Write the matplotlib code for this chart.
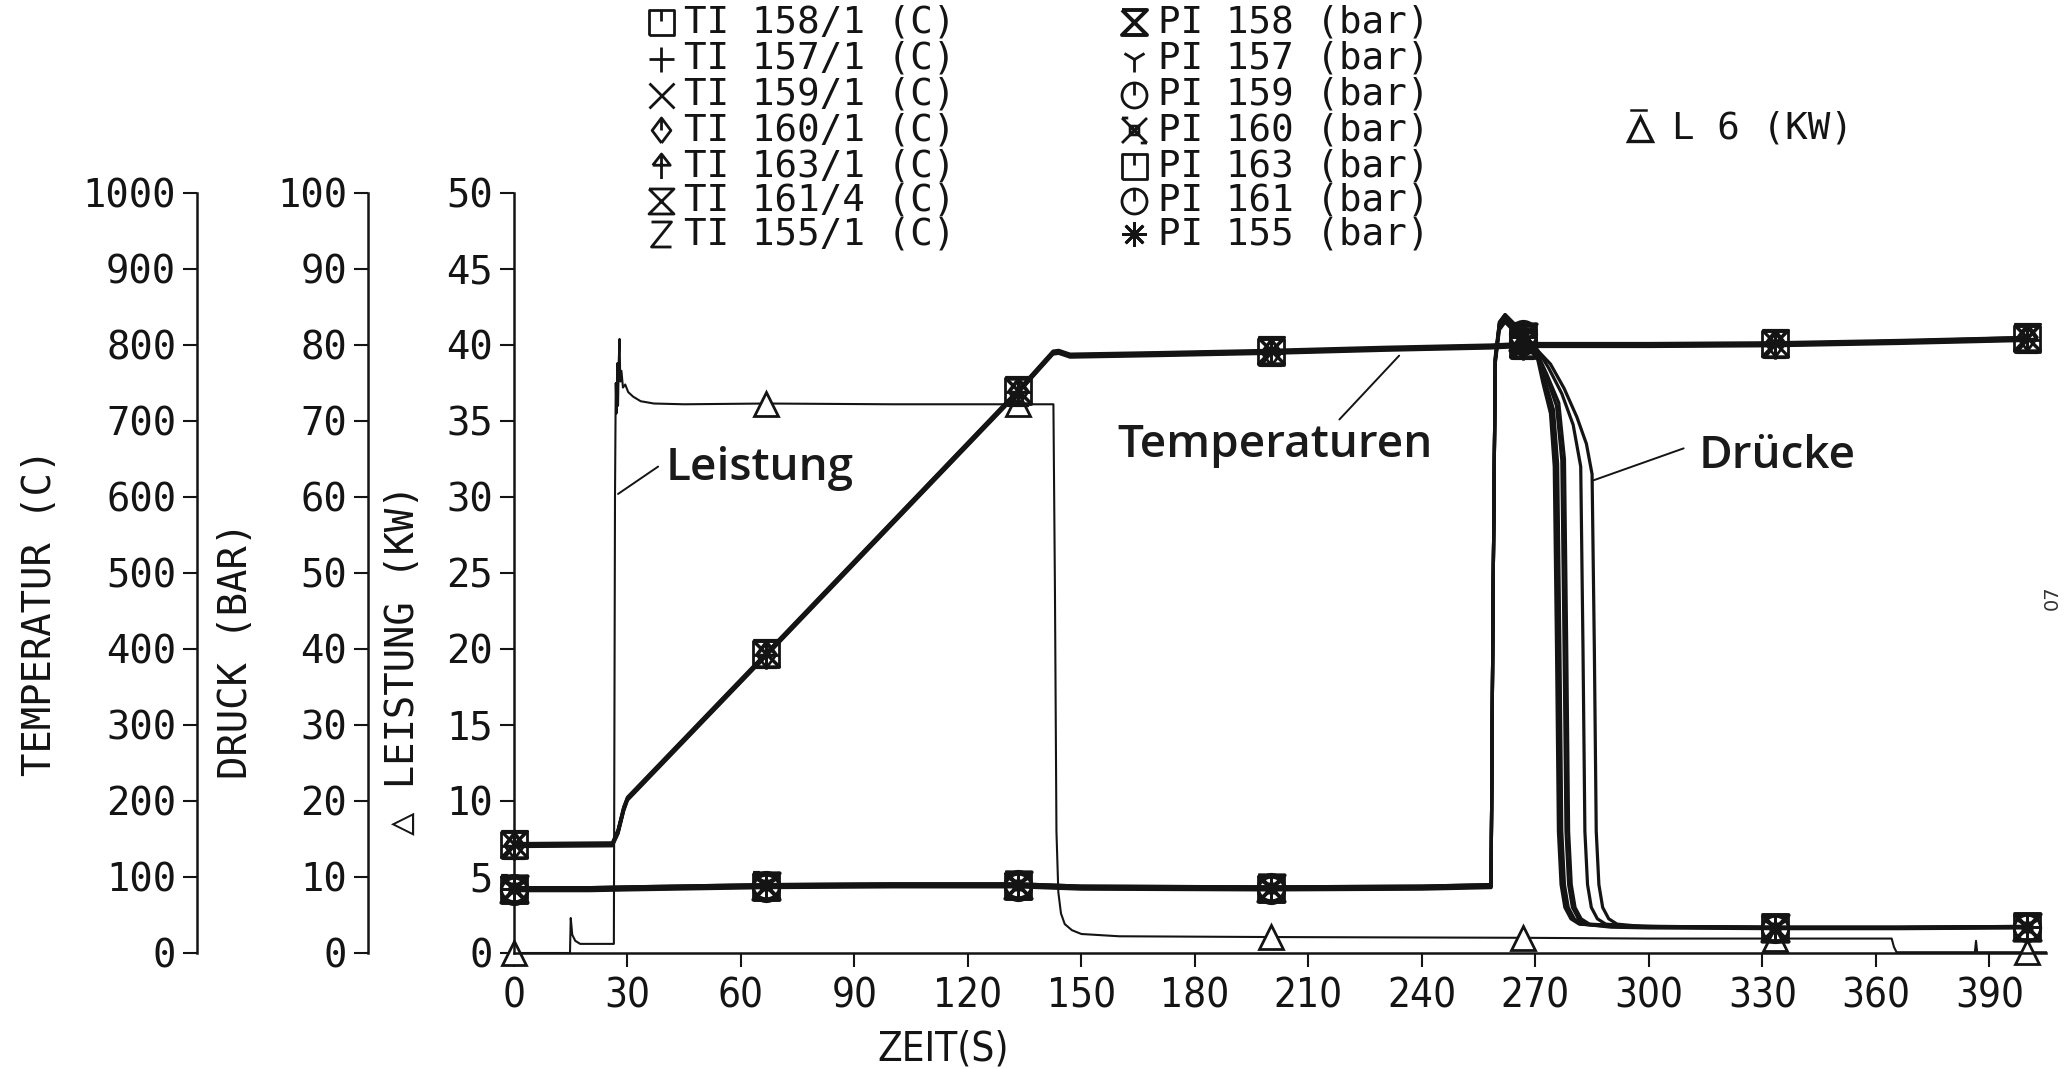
import matplotlib
matplotlib.use("Agg")
import matplotlib.pyplot as plt
from matplotlib.path import Path
from matplotlib.lines import Line2D
from matplotlib import font_manager as fm

# ---------------------------------------------------------------- data
X_TICKS = [0, 30, 60, 90, 120, 150, 180, 210, 240, 270, 300, 330, 360, 390]
TEMP_TICKS = [0, 100, 200, 300, 400, 500, 600, 700, 800, 900, 1000]
PRESS_TICKS = [0, 10, 20, 30, 40, 50, 60, 70, 80, 90, 100]
POWER_TICKS = [0, 5, 10, 15, 20, 25, 30, 35, 40, 45, 50]
MARK_TIMES = [0, 66.7, 133.3, 200, 266.7, 333.3, 400]

# temperatures (C)
T_TIME = [0, 26, 27.5, 29, 30, 66.7, 100, 133.3, 142.5, 144, 147, 170, 200, 230, 258, 266.7, 300, 333.3, 366, 400]
TI_158_1 = [142, 143, 160, 190, 203, 393, 566, 739, 790, 791, 786, 788, 791, 795, 798, 800, 800, 801, 804, 808]
TI_157_1 = [141, 142, 158, 188, 202, 392, 565, 738, 789, 790, 785, 787, 790, 794, 797, 799, 799, 800, 803, 807]
TI_159_1 = [143, 144, 161, 191, 204, 394, 567, 740, 791, 792, 787, 789, 792, 796, 799, 801, 801, 802, 805, 809]
TI_160_1 = [142, 143, 159, 189, 203, 393, 567, 740, 790, 791, 786, 788, 791, 795, 798, 800, 801, 802, 805, 810]
TI_163_1 = [140, 141, 157, 187, 201, 391, 564, 737, 788, 789, 784, 786, 789, 793, 796, 798, 798, 799, 802, 806]
TI_161_4 = [144, 145, 162, 192, 205, 395, 568, 741, 792, 793, 788, 790, 793, 797, 800, 802, 802, 803, 806, 810]
TI_155_1 = [142, 143, 160, 190, 203, 393, 566, 738, 790, 791, 786, 788, 791, 795, 798, 800, 800, 801, 804, 808]

# pressures (bar)
PI_158_T = [0, 20, 30, 66.7, 100, 133.3, 150, 200, 240, 258.3, 258.8, 259.4, 260.5, 262, 264, 266.7, 270,
            272, 274, 275.0, 275.6, 276.1, 276.8, 277.8, 279.4, 281.6, 290, 300, 333.3, 366, 400]
PI_158 = [8.4, 8.4, 8.5, 8.8, 8.9, 8.9, 8.6, 8.5, 8.6, 8.8, 45, 78, 82.5, 83.5, 82.5, 81, 79.5,
          75, 71, 64, 40, 16, 9, 6, 4.5, 3.8, 3.5, 3.4, 3.3, 3.3, 3.4]
PI_157_T = [0, 20, 30, 66.7, 100, 133.3, 150, 200, 240, 258.3, 258.8, 259.4, 260.5, 262, 264, 266.7, 270,
            272.2, 274.4, 275.4, 276.0, 276.5, 277.2, 278.2, 279.8, 282, 290, 300, 333.3, 366, 400]
PI_157 = [8.6, 8.6, 8.7, 9.0, 9.1, 9.1, 8.8, 8.7, 8.8, 9.0, 45, 78.5, 83, 84, 83, 81.5, 79.8,
          75.3, 71.2, 64.2, 40, 16, 9, 6, 4.5, 3.8, 3.6, 3.5, 3.4, 3.4, 3.5]
PI_159_T = [0, 20, 30, 66.7, 100, 133.3, 150, 200, 240, 258.3, 258.8, 259.4, 260.5, 262, 264, 266.7, 270,
            272.4, 274.8, 275.9, 276.5, 277.0, 277.7, 278.7, 280.3, 282.5, 290, 300, 333.3, 366, 400]
PI_159 = [8.2, 8.2, 8.3, 8.6, 8.7, 8.7, 8.4, 8.3, 8.4, 8.6, 45, 77.5, 82, 83, 82, 80.5, 79.2,
          75.6, 71.5, 64.4, 40, 16, 9, 6, 4.5, 3.8, 3.4, 3.3, 3.2, 3.2, 3.3]
PI_160_T = [0, 20, 30, 66.7, 100, 133.3, 150, 200, 240, 258.3, 258.8, 259.4, 260.5, 262, 264, 266.7, 270,
            272.8, 275.6, 277.0, 277.6, 278.1, 278.8, 279.8, 281.4, 283.6, 291, 300, 333.3, 366, 400]
PI_160 = [8.5, 8.5, 8.6, 8.9, 9.0, 9.0, 8.7, 8.6, 8.7, 8.9, 45, 78, 82.8, 83.8, 82.8, 81.2, 79.6,
          76, 72, 64.8, 40, 16, 9, 6, 4.5, 3.8, 3.5, 3.4, 3.3, 3.3, 3.4]
PI_163_T = [0, 20, 30, 66.7, 100, 133.3, 150, 200, 240, 258.3, 258.8, 259.4, 260.5, 262, 264, 266.7, 270,
            273, 276.2, 277.7, 278.3, 278.8, 279.5, 280.5, 282.1, 284.3, 292, 300, 333.3, 366, 400]
PI_163 = [8.3, 8.3, 8.4, 8.7, 8.8, 8.8, 8.5, 8.4, 8.5, 8.7, 45, 77.8, 82.3, 83.3, 82.3, 80.8, 79.4,
          76.2, 72.4, 65, 40, 16, 9, 6, 4.5, 3.8, 3.6, 3.5, 3.4, 3.4, 3.5]
PI_161_T = [0, 20, 30, 66.7, 100, 133.3, 150, 200, 240, 258.3, 258.8, 259.4, 260.5, 262, 264, 266.7, 270,
            273.5, 277, 280, 282.0, 282.6, 283.1, 283.8, 284.8, 286.4, 288.6, 296, 333.3, 366, 400]
PI_161 = [8.6, 8.6, 8.7, 9.0, 9.1, 9.1, 8.8, 8.7, 8.8, 9.0, 45, 78.2, 83, 84, 83, 81.4, 79.8,
          77, 73.6, 69.5, 64, 40, 16, 9, 6, 4.5, 3.8, 3.5, 3.35, 3.35, 3.45]
PI_155_T = [0, 20, 30, 66.7, 100, 133.3, 150, 200, 240, 258.3, 258.8, 259.4, 260.5, 262, 264, 266.7, 270,
            274, 277.6, 281, 283.5, 285.0, 285.6, 286.1, 286.8, 287.8, 289.4, 291.6, 298, 333.3, 366, 400]
PI_155 = [8.4, 8.4, 8.5, 8.8, 8.9, 8.9, 8.6, 8.5, 8.6, 8.8, 45, 78, 82.6, 83.6, 82.6, 81, 79.6,
          77.5, 74.3, 70.5, 67, 63, 40, 16, 9, 6, 4.5, 3.8, 3.5, 3.3, 3.3, 3.4]

# power L 6 (kW)
L6_T = [0, 14.8, 15.0, 15.4, 16.2, 17.5, 26.4, 26.7, 26.9, 27.1, 27.3, 27.5, 27.7, 27.9, 28.1, 28.4,
        28.8, 29.4, 30.2, 31.5, 33.5, 37, 45, 66.7, 100, 133.3, 142.6, 143.0, 143.4, 143.9, 144.6,
        145.6, 147.5, 150, 160, 200, 266.7, 300, 333.3, 364.2, 364.8, 365.5, 386.2, 386.5, 386.8, 400, 405]
L6 = [0, 0, 2.3, 1.2, 0.8, 0.6, 0.6, 30, 37.5, 35.5, 38.8, 36.0, 39.0, 40.4, 37.6, 38.3,
      37.2, 37.4, 36.9, 36.6, 36.3, 36.15, 36.1, 36.15, 36.1, 36.1, 36.1, 24, 8, 4, 2.6,
      1.9, 1.5, 1.25, 1.1, 1.05, 1.0, 0.95, 0.95, 0.95, 0.4, 0.05, 0.05, 0.8, 0.05, 0.05, 0.05]

TI_LABELS = ["TI 158/1 (C)", "TI 157/1 (C)", "TI 159/1 (C)", "TI 160/1 (C)",
             "TI 163/1 (C)", "TI 161/4 (C)", "TI 155/1 (C)"]
PI_LABELS = ["PI 158 (bar)", "PI 157 (bar)", "PI 159 (bar)", "PI 160 (bar)",
             "PI 163 (bar)", "PI 161 (bar)", "PI 155 (bar)"]
L6_LABEL = "L 6 (KW)"

# ---------------------------------------------------------------- fonts
def narrow_font(size):
    """Pick a condensed sans face if one is installed, else plain DejaVu Sans."""
    entries = fm.fontManager.ttflist
    def ok(f):
        return f.style == "normal" and f.weight in (400, "normal", "regular", "book")
    for f in entries:
        if f.name == "Liberation Sans Narrow" and ok(f):
            return fm.FontProperties(fname=f.fname, size=size)
    for fam in ("DejaVu Sans", "Noto Sans", "Open Sans", "Roboto", "Lato", "Inter"):
        for f in entries:
            if f.name == fam and ok(f) and (str(f.stretch) in ("condensed", "semi-condensed", "extra-condensed")
                                            or "Condensed" in f.fname):
                return fm.FontProperties(fname=f.fname, size=size)
    for f in entries:
        if ("Condensed" in f.name or "Narrow" in f.name) and ok(f):
            return fm.FontProperties(fname=f.fname, size=size)
    return fm.FontProperties(family="DejaVu Sans", size=size)

NARROW_TICK = narrow_font(29)
NARROW_LAB = narrow_font(29)

# ---------------------------------------------------------------- markers
M, LT = Path.MOVETO, Path.LINETO
SQ_T = Path([(-1, -1), (1, -1), (1, 1), (-1, 1), (-1, -1), (0, 1), (0, 0.1)], [M, LT, LT, LT, LT, M, LT])
DIA_T = Path([(0, -1), (0.75, 0), (0, 1), (-0.75, 0), (0, -1), (0, 1), (0, 0)], [M, LT, LT, LT, LT, M, LT])
ARROW = Path([(-0.7, 0.1), (0, 1), (0.7, 0.1), (-0.7, 0.1), (0, 1), (0, -1)], [M, LT, LT, LT, M, LT])
HOURGLASS = Path([(-1, 1), (1, 1), (-1, -1), (1, -1), (-1, 1)], [M, LT, LT, LT, LT])
ZED = Path([(-0.8, 1), (0.8, 1), (-0.8, -1), (0.8, -1)], [M, LT, LT, LT])
CIRC_T = Path.make_compound_path(Path.unit_circle(), Path([(0, 1), (0, 0)], [M, LT]))
XBOX = Path([(-1, 1), (1, -1), (1, 1), (-1, -1), (-0.35, -0.35), (0.35, -0.35), (0.35, 0.35),
             (-0.35, 0.35), (-0.35, -0.35), (-1, 1), (-0.5, 1), (0.5, -1), (1, -1)],
            [M, LT, M, LT, M, LT, LT, LT, LT, M, LT, M, LT])

TI_SERIES = [(TI_158_1, SQ_T, 2.0), (TI_157_1, '+', 2.0), (TI_159_1, 'x', 2.0), (TI_160_1, DIA_T, 2.0),
             (TI_163_1, ARROW, 2.0), (TI_161_4, HOURGLASS, 2.0), (TI_155_1, ZED, 2.0)]
PI_SERIES = [(PI_158_T, PI_158, HOURGLASS, 2.8), (PI_157_T, PI_157, '1', 2.0), (PI_159_T, PI_159, CIRC_T, 2.0),
             (PI_160_T, PI_160, XBOX, 2.0), (PI_163_T, PI_163, SQ_T, 2.0), (PI_161_T, PI_161, CIRC_T, 2.0),
             (PI_155_T, PI_155, (8, 2, 0), 2.0)]

INK = "#141414"
MONO = ["DejaVu Sans Mono", "DejaVu Sans"]
LABELF = ["Open Sans", "DejaVu Sans"]

def mark_idx(times):
    return [i for i, t in enumerate(times) if t in MARK_TIMES]

# ---------------------------------------------------------------- figure
W_PX, H_PX = 2064, 1069
fig = plt.figure(figsize=(W_PX / 100, H_PX / 100), dpi=100)
fig.patch.set_facecolor("white")
rect = [514 / W_PX, 1 - 953 / H_PX, 1532 / W_PX, 760 / H_PX]
ax = fig.add_axes(rect)
ax_p = fig.add_axes(rect)
ax_t = fig.add_axes(rect)

for a in (ax, ax_p, ax_t):
    a.set_xlim(0, 405)
    a.spines["top"].set_visible(False)
    a.spines["right"].set_visible(False)
    a.spines["left"].set_linewidth(1.8)
    a.spines["left"].set_color(INK)
    a.tick_params(axis="y", direction="out", length=10, width=1.5, pad=5, colors=INK)
for a in (ax_p, ax_t):
    a.patch.set_visible(False)
    a.spines["bottom"].set_visible(False)
    a.tick_params(axis="x", bottom=False, labelbottom=False)
ax.spines["bottom"].set_linewidth(1.8)
ax.spines["bottom"].set_color(INK)
ax_t.spines["left"].set_position(("axes", (197 - 514) / 1532))
ax_p.spines["left"].set_position(("axes", (368 - 514) / 1532))

ax.set_ylim(0, 50)
ax_p.set_ylim(0, 100)
ax_t.set_ylim(0, 1000)

ax.set_xticks(X_TICKS, labels=[str(v) for v in X_TICKS], fontproperties=NARROW_TICK, color=INK)
ax.tick_params(axis="x", direction="out", length=10, width=1.5, pad=7, colors=INK)
ax.set_yticks(POWER_TICKS, labels=[str(v) for v in POWER_TICKS], family=MONO, fontsize=28, color=INK)
ax_p.set_yticks(PRESS_TICKS, labels=[str(v) for v in PRESS_TICKS], family=MONO, fontsize=28, color=INK)
ax_t.set_yticks(TEMP_TICKS, labels=[str(v) for v in TEMP_TICKS], family=MONO, fontsize=28, color=INK)

# data lines
for vals, mk, mew in TI_SERIES:
    ax_t.plot(T_TIME, vals, color=INK, lw=2.3, marker=mk, markersize=19, mew=mew,
              mfc="none", mec=INK, markevery=mark_idx(T_TIME), clip_on=False, zorder=3)
for times, vals, mk, mew in PI_SERIES:
    ax_p.plot(times, vals, color=INK, lw=2.3, marker=mk, markersize=19, mew=mew,
              mfc="none", mec=INK, markevery=mark_idx(times), clip_on=False, zorder=3)
ax.plot(L6_T, L6, color=INK, lw=1.5, marker="^", markersize=17, mew=2.0, mfc="white",
        mec=INK, markevery=mark_idx(L6_T), clip_on=False, zorder=2)

# annotations (in Leistung units)
ann = dict(fontsize=33, fontweight="semibold", family=LABELF, color="#1a1a1a", va="baseline", ha="left")
ax.text(40.0, 31.1, "Leistung", **ann)
ax.text(159.4, 32.6, "Temperaturen", **ann)
ax.text(313.2, 31.9, "Drücke", **ann)
lead = dict(arrowstyle="-", lw=1.4, color=INK, shrinkA=0, shrinkB=0)
ax.annotate("", xy=(27.5, 30.2), xytext=(38.1, 32.0), arrowprops=lead)
ax.annotate("", xy=(234.0, 39.3), xytext=(218.2, 35.1), arrowprops=lead)
ax.annotate("", xy=(285.4, 31.1), xytext=(309.2, 33.2), arrowprops=lead)

# axis titles
fig.text(40 / W_PX, 1 - 612 / H_PX, "TEMPERATUR (C)", rotation=90, ha="center", va="center",
         family=MONO, fontsize=28, color=INK)
fig.text(236 / W_PX, 1 - 650 / H_PX, "DRUCK (BAR)", rotation=90, ha="center", va="center",
         family=MONO, fontsize=28, color=INK)
fig.text(403 / W_PX, 1 - 660 / H_PX, "\u25b3 LEISTUNG (KW)", rotation=90, ha="center", va="center",
         family=MONO, fontsize=28, color=INK)
fig.text(943 / W_PX, 1 - 1050 / H_PX, "ZEIT(S)", ha="center", va="center",
         fontproperties=NARROW_LAB, color=INK)

# legend block
rows = [22, 59, 95, 130, 166, 201, 234]
for (vals, mk, mew), lab, y in zip(TI_SERIES, TI_LABELS, rows):
    fig.add_artist(Line2D([661 / W_PX], [1 - y / H_PX], marker=mk, markersize=18, mew=mew,
                          mfc="none", mec=INK, transform=fig.transFigure))
    fig.text(684 / W_PX, 1 - y / H_PX, lab, ha="left", va="center", family=MONO, fontsize=27, color=INK)
for (times, vals, mk, mew), lab, y in zip(PI_SERIES, PI_LABELS, rows):
    fig.add_artist(Line2D([1134 / W_PX], [1 - y / H_PX], marker=mk, markersize=18, mew=mew,
                          mfc="none", mec=INK, transform=fig.transFigure))
    fig.text(1158 / W_PX, 1 - y / H_PX, lab, ha="left", va="center", family=MONO, fontsize=27, color=INK)
fig.add_artist(Line2D([1640 / W_PX], [1 - 129 / H_PX], marker="^", markersize=17, mew=2.4,
                      mfc="none", mec=INK, transform=fig.transFigure))
fig.add_artist(Line2D([1631 / W_PX, 1646 / W_PX], [1 - 110 / H_PX, 1 - 110 / H_PX], lw=1.8,
                      color=INK, transform=fig.transFigure))
fig.text(1672 / W_PX, 1 - 129 / H_PX, L6_LABEL, ha="left", va="center", family=MONO, fontsize=27, color=INK)

# page number near the right edge
fig.text(2052 / W_PX, 1 - 598 / H_PX, "07", rotation=90, ha="center", va="center",
         fontsize=14, color="#333333")

fig.savefig("out.png", dpi=100, facecolor="white")
